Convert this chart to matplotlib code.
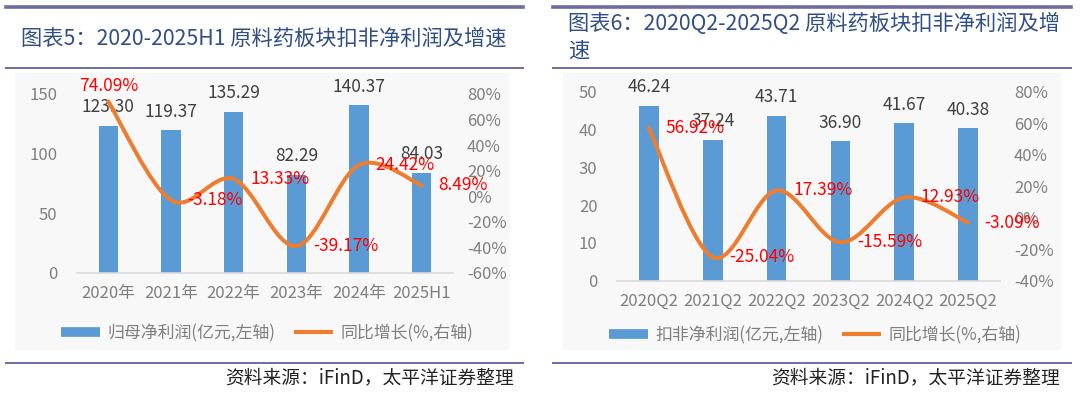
import matplotlib
matplotlib.use("Agg")
import matplotlib.pyplot as plt
import numpy as np
from matplotlib.path import Path
from matplotlib.patches import PathPatch, Rectangle
from matplotlib.lines import Line2D

plt.rcParams['font.family'] = ['Noto Sans CJK SC', 'DejaVu Sans']

# ---------------- data ----------------
cats1 = ['2020年', '2021年', '2022年', '2023年', '2024年', '2025H1']
profit1 = [123.30, 119.37, 135.29, 82.29, 140.37, 84.03]
growth1 = [74.09, -3.18, 13.33, -39.17, 24.42, 8.49]

cats2 = ['2020Q2', '2021Q2', '2022Q2', '2023Q2', '2024Q2', '2025Q2']
profit2 = [46.24, 37.24, 43.71, 36.90, 41.67, 40.38]
growth2 = [56.92, -25.04, 17.39, -15.59, 12.93, -3.09]

title1 = '图表5：2020-2025H1 原料药板块扣非净利润及增速'
title2 = '图表6：2020Q2-2025Q2 原料药板块扣非净利润及增\n速'
legend1 = ['归母净利润(亿元,左轴)', '同比增长(%,右轴)']
legend2 = ['扣非净利润(亿元,左轴)', '同比增长(%,右轴)']
source = '资料来源：iFinD，太平洋证券整理'

BLUE = '#5B9BD5'
ORANGE = '#ED7D31'
RED = '#FF0000'
TICK = '#7F7F7F'
LAB = '#404040'
RULE = '#6E6CA0'
TITLE = '#2F4F86'

W, H = 1080, 393
fig = plt.figure(figsize=(W / 100, H / 100), dpi=100)


def fx(px):
    return px / W


def fy(py):
    return 1 - py / H


def smooth_path(xs, ys):
    pts = np.column_stack([xs, ys]).astype(float)
    n = len(pts)
    verts = [pts[0]]
    codes = [Path.MOVETO]
    for i in range(n - 1):
        p0 = pts[i - 1] if i > 0 else pts[i]
        p1 = pts[i]
        p2 = pts[i + 1]
        p3 = pts[i + 2] if i + 2 < n else pts[i + 1]
        c1 = p1 + (p2 - p0) / 6.0
        c2 = p2 - (p3 - p1) / 6.0
        verts += [c1, c2, p2]
        codes += [Path.CURVE4] * 3
    return Path(verts, codes)


def panel(box, cats, vals, growth, ylim, yticks, y2lim, y2ticks, leg_labels,
          leg_center, above_first):
    x0, x1, ytop, ybot = box
    ax = fig.add_axes([fx(x0), fy(ybot), fx(x1 - x0), fy(ytop) - fy(ybot)])
    ax.patch.set_alpha(0)
    xs = np.arange(len(cats))
    bars = ax.bar(xs, vals, width=0.31, color=BLUE, zorder=2)
    ax.set_xlim(-0.5, len(cats) - 0.5)
    ax.set_ylim(*ylim)
    ax.set_yticks(yticks)
    ax.set_xticks(xs)
    ax.set_xticklabels(cats)
    for s in ['top', 'right', 'left']:
        ax.spines[s].set_visible(False)
    ax.spines['bottom'].set_color('#D9D9D9')
    ax.spines['bottom'].set_linewidth(1.2)
    ax.tick_params(axis='both', length=0, labelsize=12, labelcolor=TICK)
    ax.tick_params(axis='y', pad=14)
    ax.tick_params(axis='x', pad=9)
    ax.bar_label(bars, labels=[f'{v:.2f}' for v in vals], padding=7,
                 fontsize=12.5, color=LAB)

    ax2 = ax.twinx()
    ax2.set_ylim(*y2lim)
    ax2.set_yticks(y2ticks)
    ax2.set_yticklabels([f'{t}%' for t in y2ticks])
    for s in ax2.spines.values():
        s.set_visible(False)
    ax2.tick_params(axis='y', length=0, labelsize=12, labelcolor=TICK, pad=10)
    path = smooth_path(xs, growth)
    ax2.add_patch(PathPatch(path, facecolor='none', edgecolor=ORANGE, lw=2.9,
                            capstyle='round', joinstyle='round', zorder=3))
    for i, g in enumerate(growth):
        if i == 0 and above_first:
            ax2.annotate(f'{g:.2f}%', (xs[i], g), xytext=(0, 11.5),
                         textcoords='offset points', ha='center', va='center',
                         fontsize=12.5, color=RED, zorder=4)
        else:
            ax2.annotate(f'{g:.2f}%', (xs[i], g), xytext=(12, 0),
                         textcoords='offset points', ha='left', va='center',
                         fontsize=12.5, color=RED, zorder=4)

    handles = [Line2D([], [], color=BLUE, lw=7, solid_capstyle='butt'),
               Line2D([], [], color=ORANGE, lw=3, solid_capstyle='butt')]
    fig.legend(handles, leg_labels, loc='center',
               bbox_to_anchor=(fx(leg_center[0]), fy(leg_center[1])),
               ncol=2, frameon=False, fontsize=12.2, labelcolor=TICK,
               handlelength=2.3, handletextpad=0.45, columnspacing=1.1)
    return ax


# background boxes
fig.patches.append(Rectangle((fx(15), fy(350)), fx(510 - 15), fy(73) - fy(350),
                             transform=fig.transFigure, facecolor='#F8F8F8',
                             edgecolor='none', zorder=-5))
fig.patches.append(Rectangle((fx(563), fy(350)), fx(1062 - 563), fy(73) - fy(350),
                             transform=fig.transFigure, facecolor='#F8F8F8',
                             edgecolor='none', zorder=-5))

# rules
for (a, b) in [(6, 523), (553, 1071)]:
    fig.add_artist(Line2D([fx(a), fx(b)], [fy(7), fy(7)], color=RULE, lw=2.6))
    fig.add_artist(Line2D([fx(a), fx(b)], [fy(68), fy(68)], color=RULE, lw=1.4))
    fig.add_artist(Line2D([fx(a), fx(b)], [fy(363), fy(363)], color=RULE, lw=1.4))

fig.text(fx(21), fy(39), title1, fontsize=15.3, color=TITLE, ha='left', va='center')
fig.text(fx(568), fy(37), title2, fontsize=15.3, color=TITLE, ha='left', va='center',
         linespacing=1.25)

fig.text(fx(514), fy(378), source, fontsize=13.5, color='#222222', ha='right',
         va='center', style='italic')
fig.text(fx(1060), fy(378), source, fontsize=13.5, color='#222222', ha='right',
         va='center', style='italic')

panel((77, 453, 94, 272.7), cats1, profit1, growth1, (0, 150), [0, 50, 100, 150],
      (-60, 80), [-60, -40, -20, 0, 20, 40, 60, 80], legend1, (267, 333), True)
panel((617, 1000, 92, 280.7), cats2, profit2, growth2, (0, 50),
      [0, 10, 20, 30, 40, 50], (-40, 80), [-40, -20, 0, 20, 40, 60, 80],
      legend2, (815, 335), False)

fig.savefig('out.png', dpi=100)
